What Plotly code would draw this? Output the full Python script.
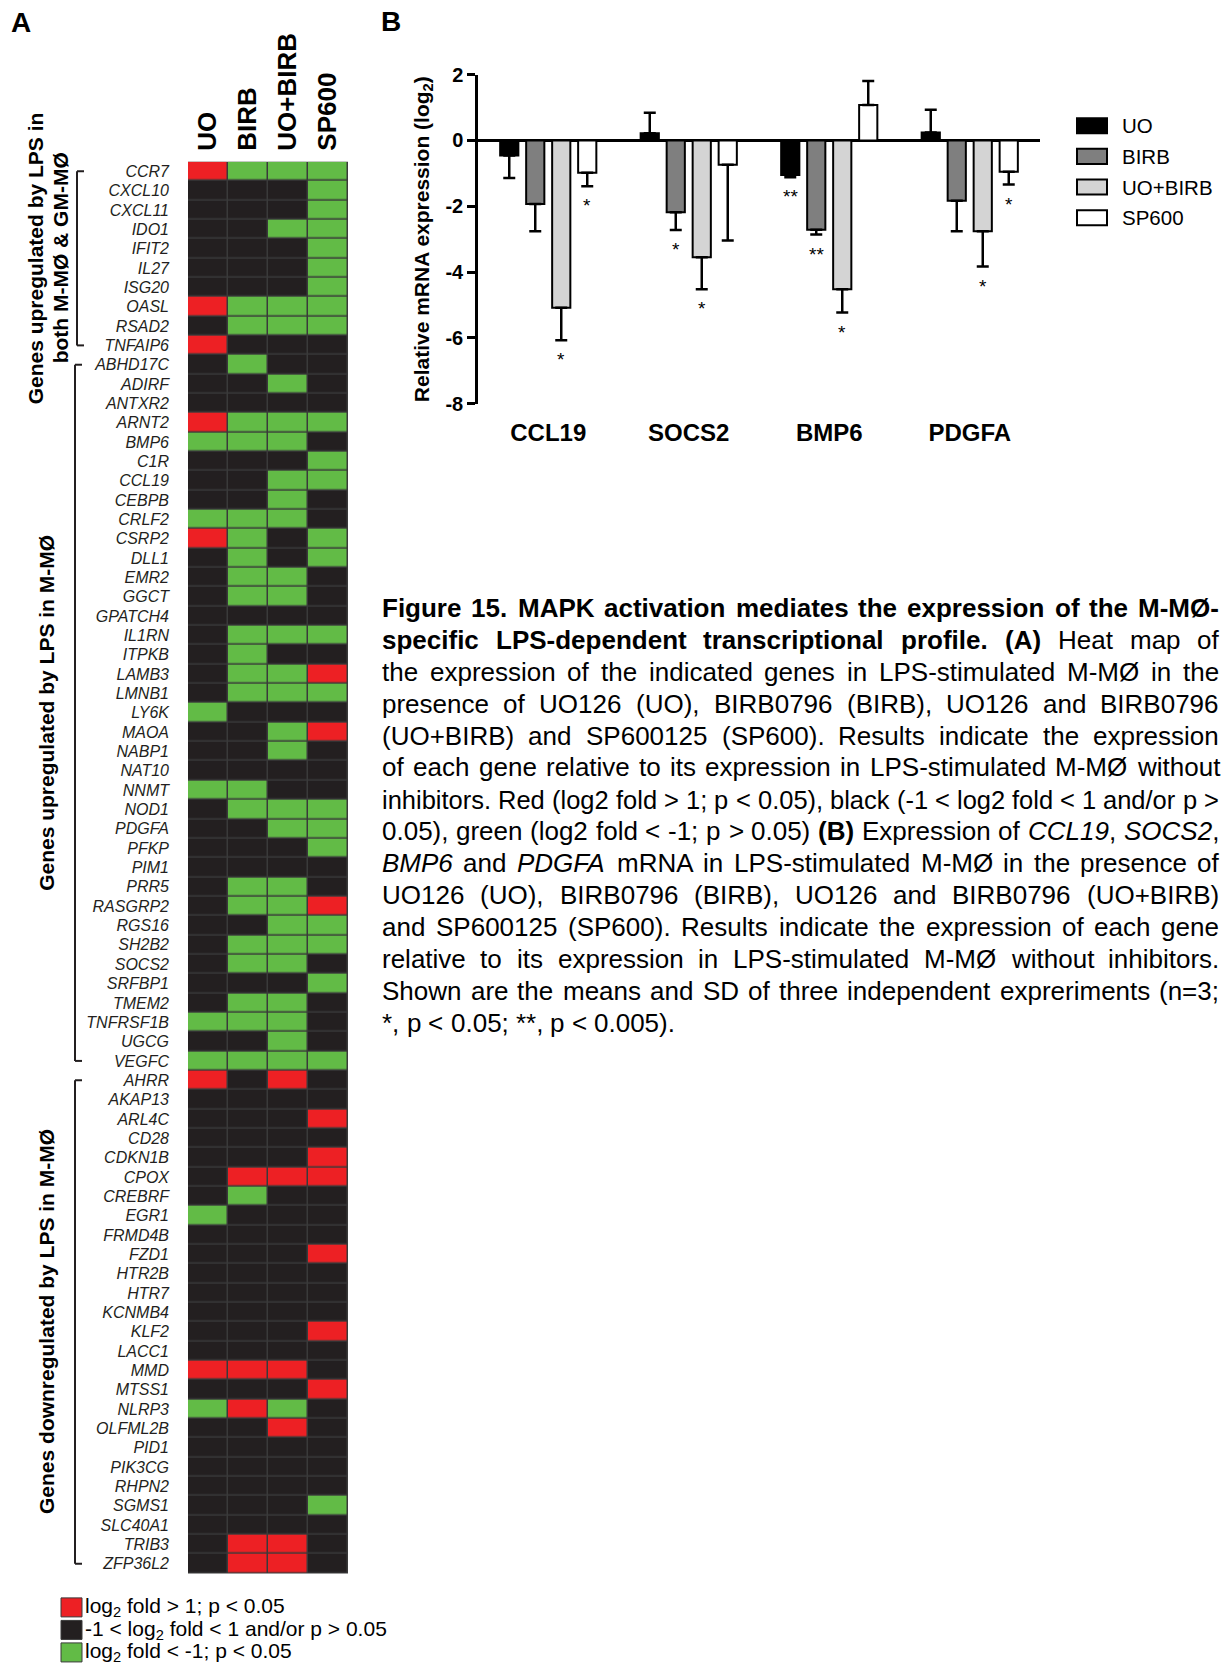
import plotly.graph_objects as go

W, H = 1223, 1666
FONT = "Liberation Sans, Arial, Helvetica, sans-serif"
INK = "#231f20"

# ---------------- Panel A : heat map data ----------------
heat_columns = ["UO", "BIRB", "UO+BIRB", "SP600"]

group1_label = ["Genes upregulated by LPS in", "both M-MØ &amp; GM-MØ"]
group1_genes = ["CCR7", "CXCL10", "CXCL11", "IDO1", "IFIT2", "IL27", "ISG20",
                "OASL", "RSAD2", "TNFAIP6"]
group1_calls = ["RGGG", "KKKG", "KKKG", "KKGG", "KKKG", "KKKG", "KKKG",
                "RGGG", "KGGG", "RKKK"]

group2_label = "Genes upregulated by LPS in M-MØ"
group2_genes = ["ABHD17C", "ADIRF", "ANTXR2", "ARNT2", "BMP6", "C1R", "CCL19",
                "CEBPB", "CRLF2", "CSRP2", "DLL1", "EMR2", "GGCT", "GPATCH4",
                "IL1RN", "ITPKB", "LAMB3", "LMNB1", "LY6K", "MAOA", "NABP1",
                "NAT10", "NNMT", "NOD1", "PDGFA", "PFKP", "PIM1", "PRR5",
                "RASGRP2", "RGS16", "SH2B2", "SOCS2", "SRFBP1", "TMEM2",
                "TNFRSF1B", "UGCG", "VEGFC"]
group2_calls = ["KGKK", "KKGK", "KKKK", "RGGG", "GGGK", "KKKG", "KKGG",
                "KKGK", "GGGK", "RGKG", "KGKG", "KGGK", "KGGK", "KKKK",
                "KGGG", "KGKK", "KGGR", "KGGG", "GKKK", "KKGR", "KKGK",
                "KKKK", "GGKK", "KGGG", "KKGG", "KKKG", "KKKK", "KGGK",
                "KGGR", "KKGG", "KGGG", "KGGK", "KKKG", "KGGK",
                "GGGK", "KKGK", "GGGG"]

group3_label = "Genes downregulated by LPS in M-MØ"
group3_genes = ["AHRR", "AKAP13", "ARL4C", "CD28", "CDKN1B", "CPOX", "CREBRF",
                "EGR1", "FRMD4B", "FZD1", "HTR2B", "HTR7", "KCNMB4", "KLF2",
                "LACC1", "MMD", "MTSS1", "NLRP3", "OLFML2B", "PID1", "PIK3CG",
                "RHPN2", "SGMS1", "SLC40A1", "TRIB3", "ZFP36L2"]
group3_calls = ["RKRK", "KKKK", "KKKR", "KKKK", "KKKR", "KRRR", "KGKK",
                "GKKK", "KKKK", "KKKR", "KKKK", "KKKK", "KKKK", "KKKR",
                "KKKK", "RRRK", "KKKR", "GRGK", "KKRK", "KKKK", "KKKK",
                "KKKK", "KKKG", "KKKK", "KRRK", "KRRK"]

call_code = {"G": 0, "K": 1, "R": 2}
heat_colors = ["#62bb46", INK, "#ed2024"]          # green, black, red
heat_legend = ["log<sub>2</sub> fold &gt; 1; p &lt; 0.05",
               "-1 &lt; log<sub>2</sub> fold &lt; 1 and/or p &gt; 0.05",
               "log<sub>2</sub> fold &lt; -1; p &lt; 0.05"]
heat_legend_colors = ["#ed2024", INK, "#62bb46"]

# ---------------- Panel B : bar chart data ----------------
bar_genes = ["CCL19", "SOCS2", "BMP6", "PDGFA"]
bar_series = ["UO", "BIRB", "UO+BIRB", "SP600"]
uo_mean = [-0.46, 0.22, -1.05, 0.24]
uo_sd = [0.68, 0.62, 0.07, 0.69]
birb_mean = [-1.93, -2.18, -2.71, -1.83]
birb_sd = [0.83, 0.54, 0.15, 0.93]
uobirb_mean = [-5.08, -3.55, -4.52, -2.76]
uobirb_sd = [0.99, 0.97, 0.71, 1.07]
sp600_mean = [-0.98, -0.74, 1.08, -0.95]
sp600_sd = [0.41, 2.30, 0.73, 0.39]
bar_fills = ["#000000", "#7f7f7f", "#d4d4d4", "#ffffff"]
y_tickvals = [-8, -6, -4, -2, 0, 2]
y_ticktext = ["-8", "-6", "-4", "-2", "0", "2"]
# (gene index, series index, mark)
significance = [(0, 2, "*"), (0, 3, "*"), (1, 1, "*"), (1, 2, "*"),
                (2, 0, "**"), (2, 1, "**"), (2, 2, "*"), (3, 2, "*"), (3, 3, "*")]

# ---------------- Caption ----------------
caption_lines = [
    [("b", "Figure 15. MAPK activation mediates the expression of the M-MØ-")],
    [("b", "specific LPS-dependent transcriptional profile. (A)"), ("r", " Heat map of")],
    [("r", "the expression of the indicated genes in LPS-stimulated M-MØ in the")],
    [("r", "presence of UO126 (UO), BIRB0796 (BIRB), UO126 and BIRB0796")],
    [("r", "(UO+BIRB) and SP600125 (SP600). Results indicate the expression")],
    [("r", "of each gene relative to its expression in LPS-stimulated M-MØ without")],
    [("r", "inhibitors. Red (log2 fold > 1; p < 0.05), black (-1 < log2 fold < 1 and/or p >")],
    [("r", "0.05), green (log2 fold < -1; p > 0.05) "), ("b", "(B)"), ("r", " Expression of "),
     ("i", "CCL19"), ("r", ", "), ("i", "SOCS2"), ("r", ",")],
    [("i", "BMP6"), ("r", " and "), ("i", "PDGFA"), ("r", " mRNA in LPS-stimulated M-MØ in the presence of")],
    [("r", "UO126 (UO), BIRB0796 (BIRB), UO126 and BIRB0796 (UO+BIRB)")],
    [("r", "and SP600125 (SP600). Results indicate the expression of each gene")],
    [("r", "relative to its expression in LPS-stimulated M-MØ without inhibitors.")],
    [("r", "Shown are the means and SD of three independent expreriments (n=3;")],
    [("r", "*, p < 0.05; **, p < 0.005).")],
]

# ---------------- geometry (pixels, measured on the reference) ----------------
HM_X0, HM_X1, HM_Y0, HM_Y1 = 188, 348, 162, 1573
BAR_X0, BAR_X1, BAR_Y0, BAR_Y1 = 478, 1040, 75, 404
CAP_X0, CAP_X1, CAP_BASE0, CAP_STEP, CAP_FS = 382, 1219, 617, 31.9, 26
# the photographed page shows a small vertical offset/scale; compensate for it
V_OFF, V_SCALE = 11.4, 0.9863


def px(x):
    return x / W


def py(y):
    return 1 - ((y - V_OFF) / V_SCALE) / H


genes = group1_genes + group2_genes + group3_genes
calls = group1_calls + group2_calls + group3_calls
z = [[call_code[c] for c in row] for row in calls]
n_rows = len(genes)

fig = go.Figure()

cs = [[0, heat_colors[0]], [1 / 3, heat_colors[0]], [1 / 3, heat_colors[1]],
      [2 / 3, heat_colors[1]], [2 / 3, heat_colors[2]], [1, heat_colors[2]]]
fig.add_trace(go.Heatmap(z=z, x=list(range(len(heat_columns))), y=list(range(n_rows)),
                         colorscale=cs, zmin=0, zmax=2, showscale=False,
                         xgap=1.5, ygap=1.5, hoverinfo="skip",
                         xaxis="x", yaxis="y"))

means = [uo_mean, birb_mean, uobirb_mean, sp600_mean]
sds = [uo_sd, birb_sd, uobirb_sd, sp600_sd]
for name, m, sd, col in zip(bar_series, means, sds, bar_fills):
    plus = [s if v >= 0 else 0 for v, s in zip(m, sd)]
    minus = [0 if v >= 0 else s for v, s in zip(m, sd)]
    fig.add_trace(go.Bar(x=bar_genes, y=m, name=name,
                         marker=dict(color=col, line=dict(color="black", width=2)),
                         error_y=dict(type="data", symmetric=False, array=plus,
                                      arrayminus=minus, color="black",
                                      thickness=2.5, width=6),
                         xaxis="x2", yaxis="y2", showlegend=False))

shapes = []
annotations = []

# heat map gap colour
shapes.append(dict(type="rect", xref="paper", yref="paper", layer="below",
                   x0=px(HM_X0), x1=px(HM_X1), y0=py(HM_Y1), y1=py(HM_Y0),
                   fillcolor="#3a3a3a", line=dict(width=0)))

# brackets and group labels
groups = [(0, len(group1_genes) - 1),
          (len(group1_genes), len(group1_genes) + len(group2_genes) - 1),
          (len(group1_genes) + len(group2_genes), n_rows - 1)]
bx = [77, 75, 75]
for (s, e), x in zip(groups, bx):
    for seg in [(x, s, x, e), (x, s, x + 7, s), (x, e, x + 7, e)]:
        shapes.append(dict(type="line", xref="paper", yref="y",
                           x0=px(seg[0]), y0=seg[1], x1=px(seg[2]), y1=seg[3],
                           line=dict(color=INK, width=2)))

gl_font = dict(family=FONT, size=21, color="black", weight="bold")
annotations.append(dict(text=group1_label[0], x=px(35), y=(groups[0][0] + groups[0][1]) / 2,
                        xref="paper", yref="y", textangle=-90, showarrow=False,
                        font=gl_font, xanchor="center", yanchor="middle"))
annotations.append(dict(text=group1_label[1], x=px(60), y=(groups[0][0] + groups[0][1]) / 2,
                        xref="paper", yref="y", textangle=-90, showarrow=False,
                        font=gl_font, xanchor="center", yanchor="middle"))
for lab, (s, e) in zip([group2_label, group3_label], groups[1:]):
    annotations.append(dict(text=lab, x=px(47), y=(s + e) / 2,
                            xref="paper", yref="y", textangle=-90, showarrow=False,
                            font=gl_font, xanchor="center", yanchor="middle"))

# heat map legend
for i, (lab, col) in enumerate(zip(heat_legend, heat_legend_colors)):
    cy = 1607 + i * 22.5
    shapes.append(dict(type="rect", xref="paper", yref="paper",
                       x0=px(61), x1=px(82), y0=py(cy + 9.5), y1=py(cy - 9.5),
                       fillcolor=col, line=dict(color="#3a3a3a", width=1)))
    annotations.append(dict(text=lab, x=px(85), y=py(cy), xref="paper", yref="paper",
                            xanchor="left", yanchor="middle", showarrow=False,
                            borderpad=0, borderwidth=0,
                            font=dict(family=FONT, size=21, color="black")))

# bar legend
for i, (lab, col) in enumerate(zip(bar_series, bar_fills)):
    cy = 126 + i * 30.7
    shapes.append(dict(type="rect", xref="paper", yref="paper",
                       x0=px(1077), x1=px(1107), y0=py(cy + 7.5), y1=py(cy - 7.5),
                       fillcolor=col, line=dict(color="black", width=2)))
    annotations.append(dict(text=lab, x=px(1122), y=py(cy), xref="paper", yref="paper",
                            xanchor="left", yanchor="middle", showarrow=False,
                            borderpad=0, borderwidth=0,
                            font=dict(family=FONT, size=20.5, color="black")))

# significance marks
bargap = 0.26
slot = (1 - bargap) / len(bar_series)
for g, s, mark in significance:
    v = means[s][g]
    end = v - sds[s][g] if v < 0 else v + sds[s][g]
    annotations.append(dict(text=mark, x=g + (s - 1.5) * slot, y=end, xref="x2", yref="y2",
                            xanchor="center", yanchor="top", yshift=-9, showarrow=False,
                            borderpad=0, borderwidth=0,
                            font=dict(family=FONT, size=19, color="black")))

# y title of bar chart
annotations.append(dict(text="Relative mRNA expression (log<sub>2</sub>)", x=px(423),
                        y=py((BAR_Y0 + BAR_Y1) / 2), xref="paper", yref="paper",
                        textangle=-90, showarrow=False, xanchor="center", yanchor="middle",
                        font=dict(family=FONT, size=21, color="black", weight="bold")))

# panel letters
for lab, x, y in [("A", 21, 23), ("B", 391, 22)]:
    annotations.append(dict(text=lab, x=px(x), y=py(y), xref="paper", yref="paper",
                            showarrow=False, xanchor="center", yanchor="middle",
                            font=dict(family=FONT, size=28, color="black", weight="bold")))

# ---------------- justified caption ----------------
REG = {' ': 278, '!': 278, '(': 333, ')': 333, '*': 389, '+': 584, ',': 278, '-': 333,
       '.': 278, '/': 278, ':': 278, ';': 278, '<': 584, '=': 584, '>': 584, 'Ø': 778,
       'A': 667, 'B': 667, 'C': 722, 'D': 722, 'E': 667, 'F': 611, 'G': 778, 'H': 722,
       'I': 278, 'J': 500, 'K': 667, 'L': 556, 'M': 833, 'N': 722, 'O': 778, 'P': 667,
       'Q': 778, 'R': 722, 'S': 667, 'T': 611, 'U': 722, 'V': 667, 'W': 944, 'X': 667,
       'Y': 667, 'Z': 611, 'a': 556, 'b': 556, 'c': 500, 'd': 556, 'e': 556, 'f': 278,
       'g': 556, 'h': 556, 'i': 222, 'j': 222, 'k': 500, 'l': 222, 'm': 833, 'n': 556,
       'o': 556, 'p': 556, 'q': 556, 'r': 333, 's': 500, 't': 278, 'u': 556, 'v': 500,
       'w': 722, 'x': 500, 'y': 500, 'z': 500}
BOLD = {' ': 278, '!': 333, '(': 333, ')': 333, '*': 389, '+': 584, ',': 278, '-': 333,
        '.': 278, '/': 278, ':': 333, ';': 333, '<': 584, '=': 584, '>': 584, 'Ø': 778,
        'A': 722, 'B': 722, 'C': 722, 'D': 722, 'E': 667, 'F': 611, 'G': 778, 'H': 722,
        'I': 278, 'J': 556, 'K': 722, 'L': 611, 'M': 833, 'N': 722, 'O': 778, 'P': 667,
        'Q': 778, 'R': 722, 'S': 667, 'T': 611, 'U': 722, 'V': 667, 'W': 944, 'X': 667,
        'Y': 667, 'Z': 611, 'a': 556, 'b': 611, 'c': 556, 'd': 611, 'e': 556, 'f': 333,
        'g': 611, 'h': 611, 'i': 278, 'j': 278, 'k': 556, 'l': 278, 'm': 889, 'n': 611,
        'o': 611, 'p': 611, 'q': 611, 'r': 389, 's': 556, 't': 333, 'u': 611, 'v': 556,
        'w': 778, 'x': 556, 'y': 556, 'z': 500}
for d in "0123456789":
    REG[d] = 556
    BOLD[d] = 556


def cw(style, ch):
    table = BOLD if style == "b" else REG
    return table.get(ch, 556) / 1000.0


def esc(t):
    return t.replace("&", "&amp;").replace("<", "&lt;").replace(">", "&gt;")


def words_of(line):
    chars = [(st, ch) for st, txt in line for ch in txt]
    words, cur = [], []
    for st, ch in chars:
        if ch == " ":
            if cur:
                words.append(cur)
                cur = []
        else:
            cur.append((st, ch))
    if cur:
        words.append(cur)
    return words


def word_html(word):
    out, pieces = "", []
    for st, ch in word:
        if pieces and pieces[-1][0] == st:
            pieces[-1][1] += ch
        else:
            pieces.append([st, ch])
    for st, t in pieces:
        t = esc(t)
        out += f"<b>{t}</b>" if st == "b" else (f"<i>{t}</i>" if st == "i" else t)
    return out


line_w = CAP_X1 - CAP_X0
for li, line in enumerate(caption_lines):
    words = words_of(line)
    em = [sum(cw(st, ch) for st, ch in w) for w in words]
    fs = CAP_FS
    nat = sum(em) + 0.278 * (len(words) - 1)
    last = li == len(caption_lines) - 1
    if not last and nat * fs > line_w:
        fs = line_w / nat
    if last:
        gap = 0.278 * fs
    else:
        gap = (line_w - sum(em) * fs) / (len(words) - 1)
    base = CAP_BASE0 + li * CAP_STEP
    cy = base - 0.3465 * fs
    x = CAP_X0
    for w, e in zip(words, em):
        annotations.append(dict(text=word_html(w), x=px(x), y=py(cy), xref="paper", yref="paper",
                                xanchor="left", yanchor="middle", showarrow=False,
                                borderpad=0, borderwidth=0,
                                font=dict(family=FONT, size=fs, color="black")))
        x += e * fs + gap

fig.update_layout(
    width=W, height=H, margin=dict(l=0, r=0, t=0, b=0),
    paper_bgcolor="white", plot_bgcolor="white",
    showlegend=False, barmode="group", bargap=bargap, bargroupgap=0.3,
    font=dict(family=FONT, color="black"),
    xaxis=dict(domain=[px(HM_X0), px(HM_X1)], range=[-0.5, len(heat_columns) - 0.5],
               side="top", tickvals=list(range(len(heat_columns))), ticktext=heat_columns,
               tickangle=-90, tickfont=dict(family=FONT, size=26, color="black", weight="bold"),
               showgrid=False, zeroline=False, showline=False, ticks="",
               ticklabelstandoff=10, anchor="y", fixedrange=True),
    yaxis=dict(domain=[py(HM_Y1), py(HM_Y0)], range=[n_rows - 0.5, -0.5],
               tickvals=list(range(n_rows)), ticktext=[f"<i>{g}</i>" for g in genes],
               tickfont=dict(family=FONT, size=16, color=INK),
               showgrid=False, zeroline=False, showline=False, ticks="",
               ticklabelstandoff=18, anchor="x", fixedrange=True),
    xaxis2=dict(domain=[px(BAR_X0), px(BAR_X1)], range=[-0.5, len(bar_genes) - 0.5],
                anchor="y2", showgrid=False, zeroline=False, showline=False, ticks="",
                tickfont=dict(family=FONT, size=24, color="black", weight="bold"),
                ticklabelstandoff=12, fixedrange=True),
    yaxis2=dict(domain=[py(BAR_Y1), py(BAR_Y0)], range=[-8, 2], anchor="x2",
                tickvals=y_tickvals, ticktext=y_ticktext,
                tickfont=dict(family=FONT, size=20, color="black", weight="bold"),
                showgrid=False, showline=True, linecolor="black", linewidth=2.5,
                ticks="outside", ticklen=8, tickwidth=2.5, tickcolor="black",
                zeroline=True, zerolinecolor="black", zerolinewidth=2.5, fixedrange=True),
    shapes=shapes, annotations=annotations,
)

pin_to_corner = (
    "document.documentElement.style.margin='0';"
    "document.documentElement.style.overflow='hidden';"
    "document.body.style.margin='0';"
    "document.body.style.overflow='hidden';"
    "var gd=document.getElementById('{plot_id}');"
    "gd.style.position='fixed';gd.style.left='0px';gd.style.top='0px';"
)

fig.write_html("out.html", config={"displayModeBar": False}, post_script=pin_to_corner)
